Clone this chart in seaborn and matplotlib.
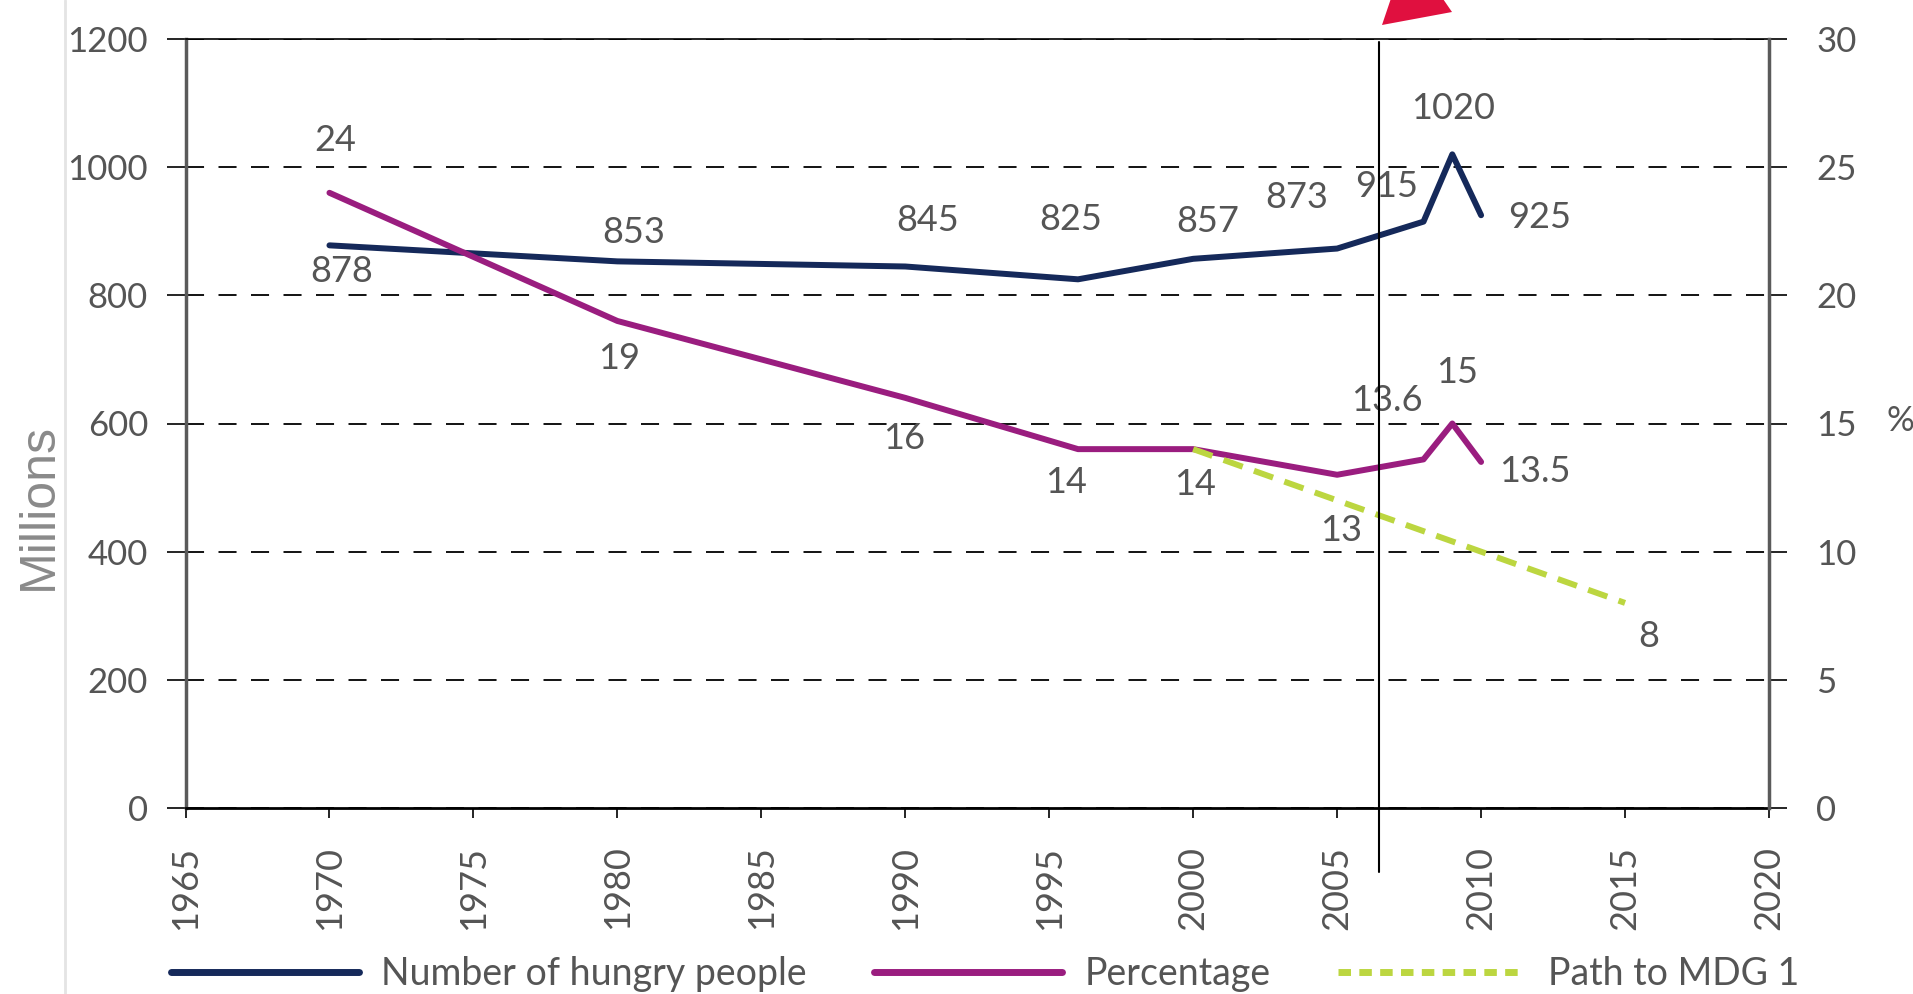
import matplotlib
matplotlib.use("Agg")
import matplotlib.pyplot as plt
import seaborn as sns
from matplotlib.patches import Polygon
from matplotlib.lines import Line2D

# ---- data ----
years = [1970, 1980, 1990, 1996, 2000, 2005, 2008, 2009, 2010]
hungry_millions = [878, 853, 845, 825, 857, 873, 915, 1020, 925]
hungry_percent = [24, 19, 16, 14, 14, 13, 13.6, 15, 13.5]
mdg_years = [2000, 2015]
mdg_percent = [14, 8]

x_ticks = list(range(1965, 2021, 5))
left_ticks = list(range(0, 1201, 200))
right_ticks = list(range(0, 31, 5))

legend_labels = ["Number of hungry people", "Percentage", "Path to MDG 1"]

# label offsets (pixels) from each point
people_offsets = [(12, -26), (16, 29), (22, 46), (-7, 60), (15, 37), (-40, 51), (-37, 35), (1, 46), (59, -2)]
percent_offsets = [(6, 52), (2, -38), (-1, -41), (-12, -33), (2, -35), (4, -56), (-37, 59), (5, 51), (54, -10)]
mdg_offsets = [None, (24, -34)]

NAVY = "#15295a"
MAGENTA = "#9a1d7f"
LIME = "#bcd640"
TXT = "#555555"
W, H = 1913, 994


def px(x, y):
    # top-left pixel coords -> figure fraction
    return x / W, 1 - y / H


sns.set_style("white")
plt.rcParams["font.family"] = ["Lato", "DejaVu Sans"]

fig = plt.figure(figsize=(W / 100, H / 100), dpi=100)
ax = fig.add_axes([185.5 / W, 1 - 808 / H, (1769 - 185.5) / W, (808 - 39) / H])
ax2 = ax.twinx()

sns.lineplot(x=years, y=hungry_millions, ax=ax, color=NAVY, lw=4.3, zorder=3)
sns.lineplot(x=years, y=hungry_percent, ax=ax2, color=MAGENTA, lw=4.3, zorder=3)
sns.lineplot(x=mdg_years, y=mdg_percent, ax=ax2, color=LIME, lw=4.3,
             linestyle=(0, (3.4, 2.0)), zorder=3)

ax.set_xlim(1965, 2020)
ax.set_ylim(0, 1200)
ax2.set_ylim(0, 30)
ax.set_xticks(x_ticks)
ax.set_yticks(left_ticks)
ax2.set_yticks(right_ticks)

ax.grid(axis="y", color="black", lw=1.3, linestyle=(0, (10, 8)))
ax.grid(axis="x", visible=False)
ax2.grid(False)

for s in ["top", "bottom"]:
    ax.spines[s].set_color("black")
ax.spines["top"].set_linewidth(1.2)
ax.spines["bottom"].set_linewidth(2)
ax.spines["left"].set_color("#5a5a5a")
ax.spines["left"].set_linewidth(2.5)
ax.spines["right"].set_visible(False)
for s in ["left", "top", "bottom"]:
    ax2.spines[s].set_visible(False)
ax2.spines["right"].set_color("#5a5a5a")
ax2.spines["right"].set_linewidth(2.5)

ax.tick_params(axis="y", direction="out", length=14, width=1.2, color="black",
               pad=13, labelsize=25, labelcolor=TXT, left=True)
ax.tick_params(axis="x", direction="out", length=7, width=1.2, color="black",
               pad=20, labelsize=26, labelcolor=TXT, labelrotation=90, bottom=True)
ax2.tick_params(axis="y", direction="out", length=13, width=1.2, color="black",
                pad=21, labelsize=25, labelcolor=TXT, right=True)
ax.set_xlabel("")
ax.set_ylabel("")
ax2.set_ylabel("")

# value labels
for yr, v, off in zip(years, hungry_millions, people_offsets):
    ax.annotate(str(v), xy=(yr, v), xytext=off, textcoords="offset pixels",
                ha="center", va="center", fontsize=26, color=TXT)
for yr, v, off in zip(years, hungry_percent, percent_offsets):
    ax2.annotate(f"{v:g}", xy=(yr, v), xytext=off, textcoords="offset pixels",
                 ha="center", va="center", fontsize=26, color=TXT)
for yr, v, off in zip(mdg_years, mdg_percent, mdg_offsets):
    if off is not None:
        ax2.annotate(f"{v:g}", xy=(yr, v), xytext=off, textcoords="offset pixels",
                     ha="center", va="center", fontsize=26, color=TXT)

fig.text(*px(39, 506), "Millions", rotation=90, fontsize=36, color="#8a8a8a",
         family=["Liberation Sans", "DejaVu Sans"], ha="center", va="center")
fig.text(*px(1886, 421), "%", fontsize=25, color=TXT, ha="left", va="center")

handles = [Line2D([], [], color=NAVY, lw=5),
           Line2D([], [], color=MAGENTA, lw=5),
           Line2D([], [], color=LIME, lw=5, linestyle=(0, (1.8, 1.2)))]
fig.legend(handles, legend_labels, loc="center left", bbox_to_anchor=px(171, 974),
           ncol=3, frameon=False, fontsize=27, labelcolor=TXT, handlelength=5.0,
           handletextpad=0.6, columnspacing=1.8, borderpad=0, borderaxespad=0)

# overlay marks on the screenshot
fig.add_artist(Line2D(*zip(px(65, 0), px(65, H)), color="#e4e4e4", lw=2))
fig.add_artist(Line2D(*zip(px(1379, 42), px(1379, 872)), color="black", lw=1.5))
fig.add_artist(Polygon([px(1382, 25), px(1452, 12), px(1408, -52)], closed=True,
                       facecolor="#e0103f", edgecolor="none"))

fig.savefig("out.png", dpi=100)
